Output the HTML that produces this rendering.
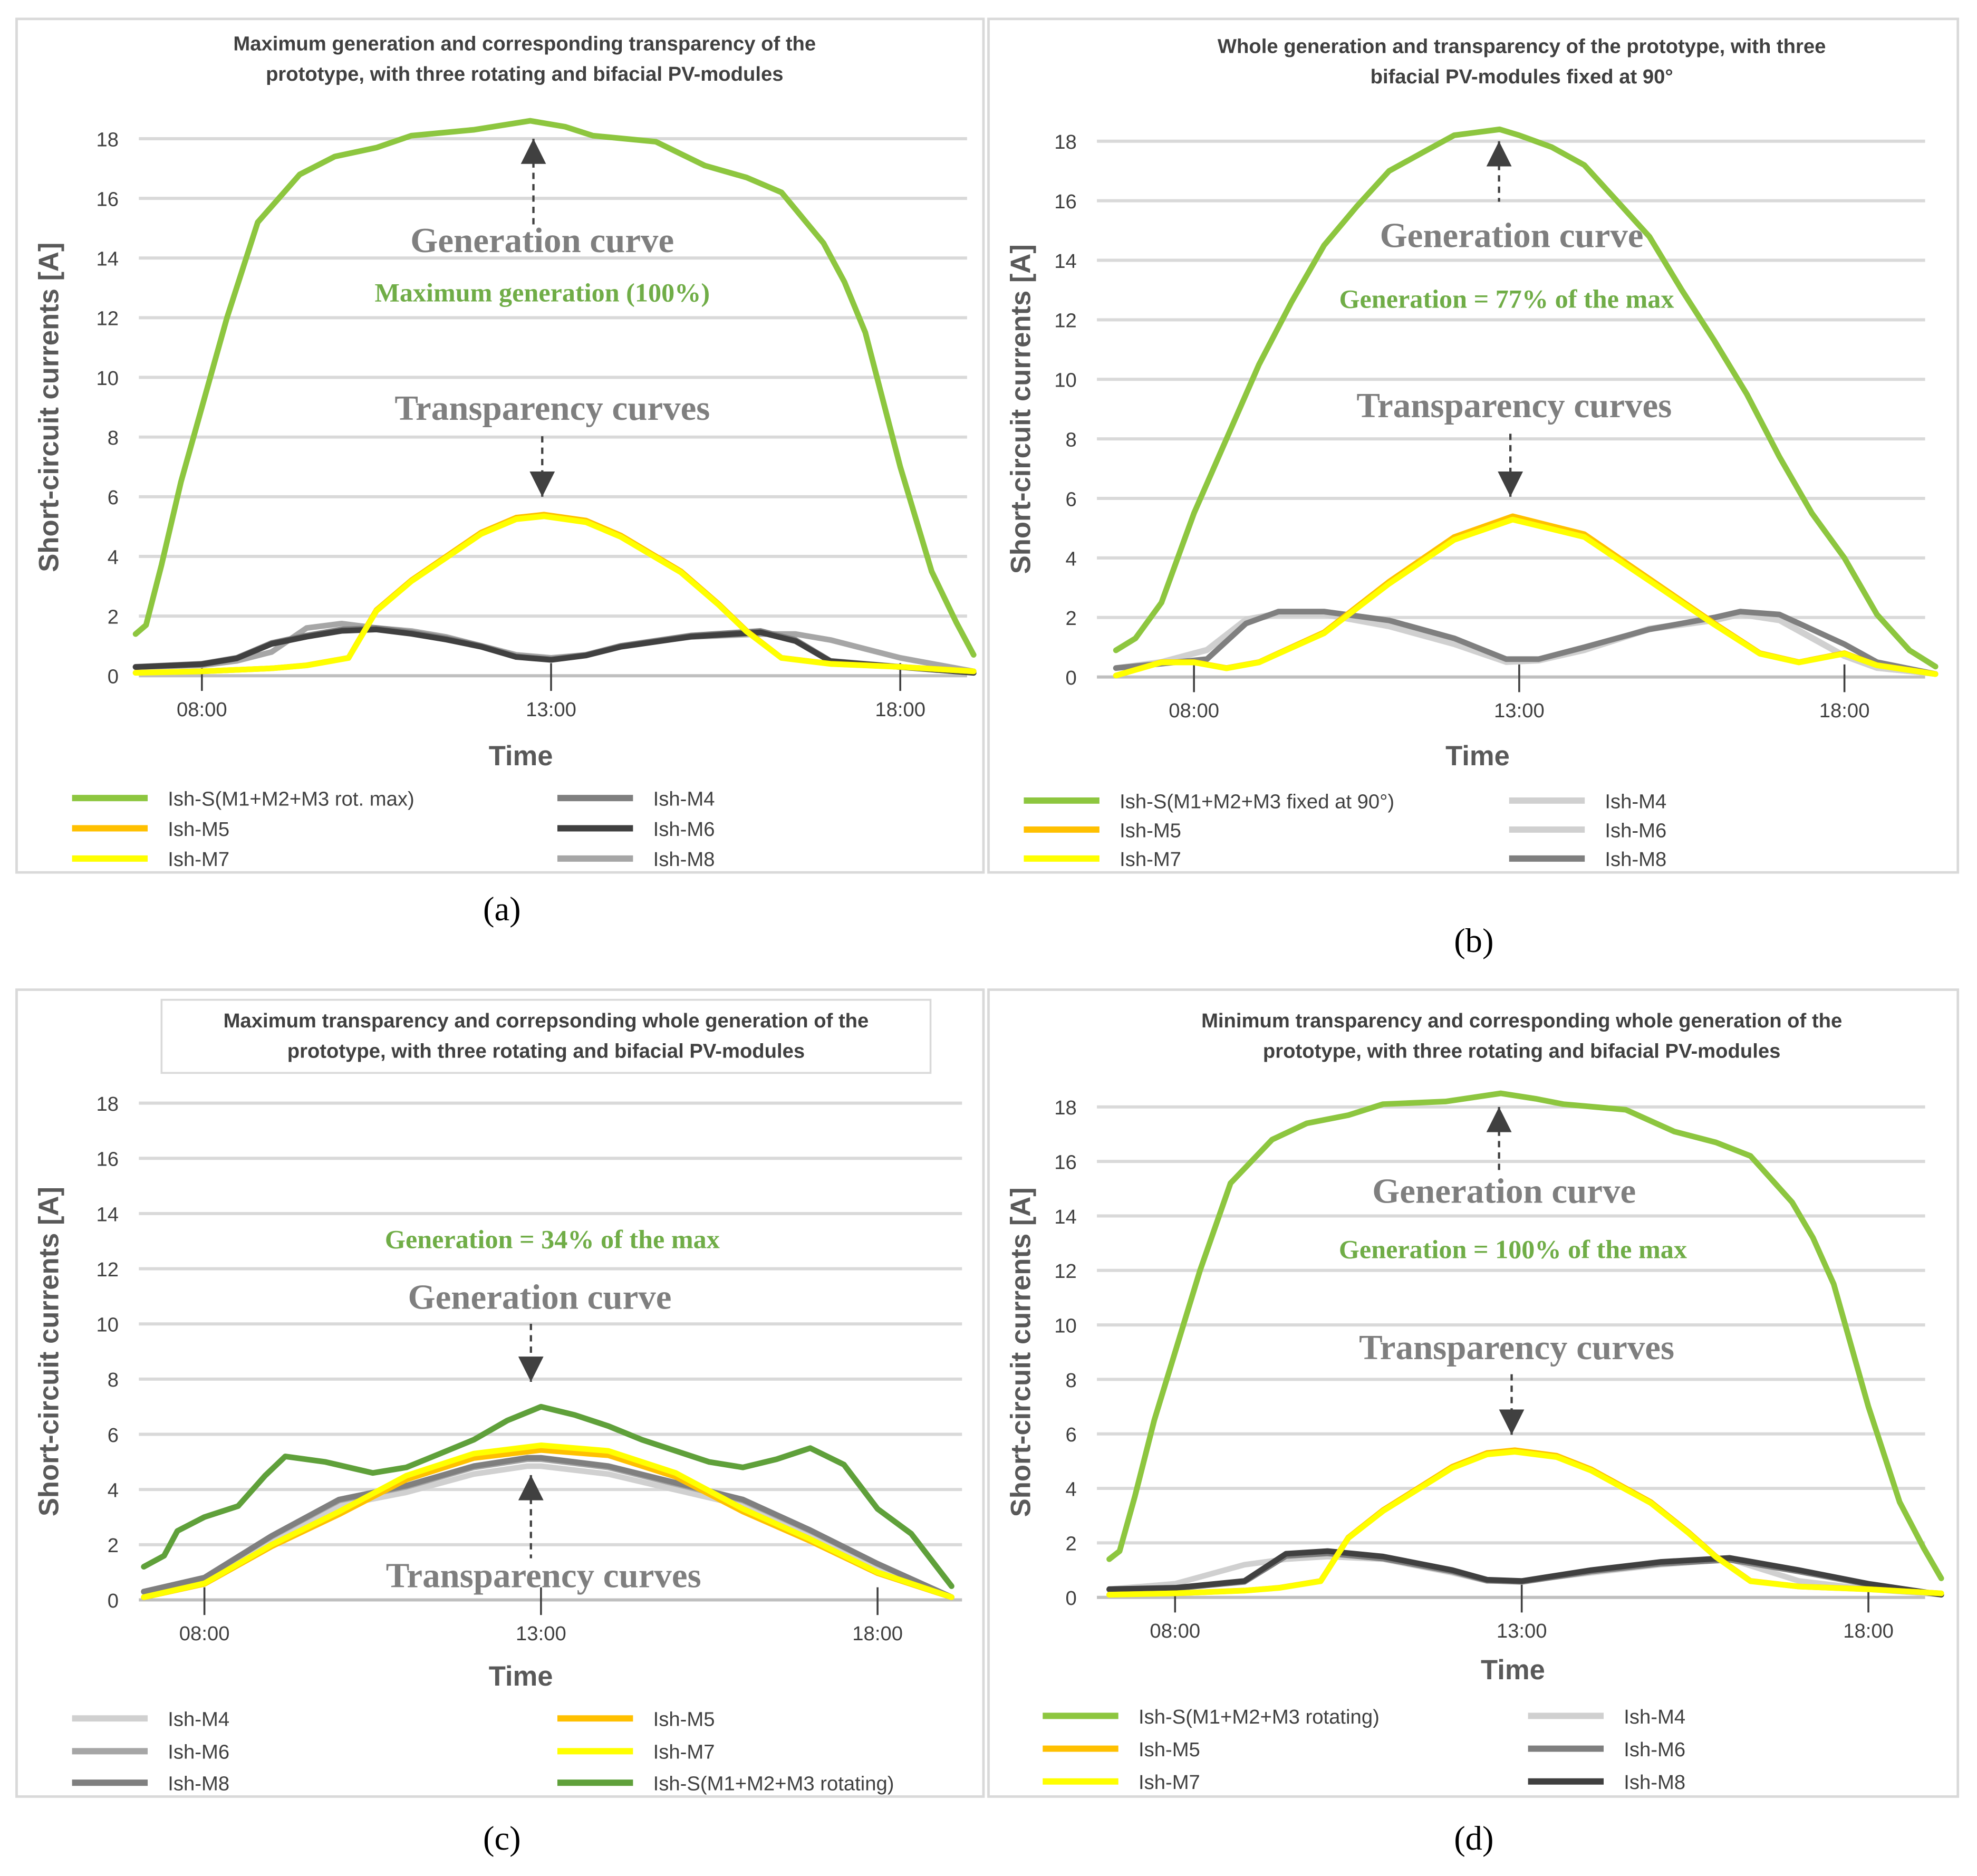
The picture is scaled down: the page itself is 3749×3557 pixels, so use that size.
<!DOCTYPE html>
<html><head><meta charset="utf-8">
<style>
html,body{margin:0;padding:0;background:#fff;}
svg{display:block;}
</style></head>
<body>
<svg id="chart" width="3749" height="3557" viewBox="0 0 1568 1488" xmlns="http://www.w3.org/2000/svg" style="font-family:'Liberation Sans',sans-serif"></svg>
<script>
// ---------- DATA ----------
const ticksY = [0,2,4,6,8,10,12,14,16,18];
const ticksX = ["08:00","13:00","18:00"];
const ticksXval = [8,13,18];

// Panel a
const aGenT = [7.05,7.2,7.42,7.7,8,8.36,8.8,9.4,9.9,10.5,11,11.9,12.7,13.2,13.6,14.5,15.2,15.8,16.3,16.9,17.2,17.5,18,18.45,18.8,19.05];
const aGenV = [1.4,1.7,3.7,6.5,9,12,15.2,16.8,17.4,17.7,18.1,18.3,18.6,18.4,18.1,17.9,17.1,16.7,16.2,14.5,13.2,11.5,7,3.5,1.8,0.7];
const aYelT = [7.05,8,9,9.5,10.1,10.5,11,11.5,12,12.5,12.9,13.5,14,14.86,15.4,15.8,16.3,17,18,19.05];
const aYelV = [0.1,0.15,0.25,0.35,0.6,2.2,3.2,4.0,4.8,5.3,5.4,5.2,4.7,3.5,2.4,1.5,0.6,0.4,0.3,0.15];
const aGryT = [7.05,8,8.5,9,9.5,10,10.5,11,11.5,12,12.5,13,13.5,14,15,16,16.5,17,18,19.05];
const aGryV = [0.3,0.4,0.6,1.1,1.35,1.55,1.6,1.45,1.25,1.0,0.65,0.55,0.7,1.0,1.35,1.5,1.2,0.5,0.3,0.1];
const aM8V  = [0.3,0.35,0.5,0.8,1.6,1.75,1.6,1.5,1.3,1.0,0.7,0.6,0.7,1.0,1.3,1.4,1.4,1.2,0.6,0.15];

// Panel b
const bGenT = [6.8,7.1,7.5,8,8.5,9,9.5,10,10.5,11,11.5,12,12.7,13,13.5,14,14.5,15,15.5,16,16.5,17,17.5,18,18.5,19,19.4];
const bGenV = [0.9,1.3,2.5,5.5,8,10.5,12.6,14.5,15.8,17,17.6,18.2,18.4,18.2,17.8,17.2,16,14.8,13,11.3,9.5,7.4,5.5,4,2.1,0.9,0.35];
const bYelT = [6.8,7.5,8,8.5,9,10,11,12,12.9,14,15,16,16.7,17.3,18,18.5,19.4];
const bYelV = [0.05,0.5,0.5,0.3,0.5,1.5,3.2,4.7,5.4,4.8,3.3,1.8,0.8,0.5,0.8,0.4,0.1];
const bGryT = [6.8,7.5,8.2,8.8,9.3,10,11,12,12.8,13.3,14,15,16,16.4,17,18,18.5,19.4];
const bGryV = [0.3,0.45,0.6,1.8,2.2,2.2,1.9,1.3,0.6,0.6,1.0,1.6,2.0,2.2,2.1,1.1,0.5,0.1];
const bLgtV = [0.3,0.5,0.9,1.9,2.1,2.1,1.7,1.1,0.5,0.55,0.9,1.6,1.9,2.1,1.9,0.7,0.3,0.1];

// Panel c
const cGenT = [7.1,7.4,7.6,8,8.5,8.9,9.2,9.8,10.5,11,11.5,12,12.5,13,13.5,14,14.5,15.5,16,16.5,17,17.5,18,18.5,19.1];
const cGenV = [1.2,1.6,2.5,3.0,3.4,4.5,5.2,5.0,4.6,4.8,5.3,5.8,6.5,7.0,6.7,6.3,5.8,5.0,4.8,5.1,5.5,4.9,3.3,2.4,0.5];
const cYelT = [7.1,8,9,10,11,12,13,14,15,16,17,18,19.1];
const cYelV = [0.1,0.6,2.0,3.2,4.5,5.3,5.6,5.4,4.6,3.3,2.2,1.0,0.1];
const cGryT = [7.1,8,9,10,11,12,12.8,13,14,15,16,17,18,19.1];
const cGryV = [0.3,0.8,2.3,3.6,4.1,4.8,5.1,5.1,4.8,4.2,3.6,2.5,1.3,0.1];

// Panel d
const dGenT = aGenT;
const dGenV = [1.4,1.7,3.7,6.5,9,12,15.2,16.8,17.4,17.7,18.1,18.2,18.5,18.3,18.1,17.9,17.1,16.7,16.2,14.5,13.2,11.5,7,3.5,1.8,0.7];
const dYelT = aYelT;
const dYelV = aYelV;
const dGryT = [7.05,8,9,9.6,10.2,11,12,12.5,13,14,15,16,17,18,19.05];
const dGryV = [0.3,0.35,0.6,1.6,1.7,1.5,1.0,0.65,0.6,1.0,1.3,1.45,1.0,0.5,0.1];
const dLgtV = [0.3,0.5,1.2,1.4,1.5,1.4,0.9,0.6,0.6,0.9,1.2,1.4,0.6,0.3,0.1];

// ---------- DRAW ----------
const NS="http://www.w3.org/2000/svg";
const svg=document.getElementById('chart');
const SERIF="font-family:'Liberation Serif',serif";
function mk(tag,attrs,parent,txt){const e=document.createElementNS(NS,tag);for(const k in attrs)e.setAttribute(k,attrs[k]);if(txt!==undefined)e.textContent=txt;(parent||svg).appendChild(e);return e;}

function panel(cfg){
  const g=mk('g',{});
  
  
  const box=mk('rect',{x:cfg.box[0],y:cfg.box[1],width:cfg.box[2],height:cfg.box[3],fill:'#fff',stroke:'#d9d9d9','stroke-width':2},g);
  
  
  const sy=v=>cfg.y0-(cfg.y0-cfg.y18)*v/18;
  const sx=t=>cfg.x8+(t-8)*(cfg.x13-cfg.x8)/5;
  ticksY.forEach(v=>{
    const l=mk('line',{x1:cfg.gx0,x2:cfg.gx1,y1:sy(v),y2:sy(v),stroke:v===0?'#bfbfbf':'#d9d9d9','stroke-width':2.5},g);
    
    
    const t=mk('text',{x:cfg.gx0-16,y:sy(v)+6,'text-anchor':'end','font-size':16,fill:'#404040'},g,String(v));
    
    
  });
  ticksX.forEach((lab,i)=>{
    const x=sx(ticksXval[i]);
    const l=mk('line',{x1:x,x2:x,y1:cfg.y0-10,y2:cfg.y0+12,stroke:'#404040','stroke-width':1.5},g);
    
    
    const t=mk('text',{x:x,y:cfg.y0+32,'text-anchor':'middle','font-size':16,fill:'#404040'},g,lab);
    
    
  });
  const yt=mk('text',{x:0,y:0,transform:`translate(${cfg.ytx},${(cfg.y0+cfg.y18)/2}) rotate(-90)`,'text-anchor':'middle','font-size':22,'font-weight':'bold',fill:'#595959'},g,'Short-circuit currents [A]');
  
  
  const xt=mk('text',{x:cfg.xtx,y:cfg.xty,'text-anchor':'middle','font-size':22,'font-weight':'bold',fill:'#595959'},g,'Time');
  
  
  if(cfg.titleBox){const tb=mk('rect',{x:cfg.titleBox[0],y:cfg.titleBox[1],width:cfg.titleBox[2],height:cfg.titleBox[3],fill:'none',stroke:'#d9d9d9','stroke-width':1.5},g);
    }
  cfg.title.forEach((s,i)=>{
    const t=mk('text',{x:cfg.tx,y:cfg.ty+i*24,'text-anchor':'middle','font-size':16,'font-weight':'bold',fill:'#404040'},g,s);
    
    
  });
  cfg.series.forEach(s=>{
    const pts=s.t.map((t,i)=>sx(t).toFixed(1)+','+sy(s.v[i]).toFixed(1)).join(' ');
    const p=mk('polyline',{points:pts,fill:'none',stroke:s.c,'stroke-width':4.5,'stroke-linejoin':'round','stroke-linecap':'round'},g);
    
    
  });
  cfg.notes.forEach(n=>{
    const t=mk('text',{x:n.x,y:n.y,'text-anchor':'middle',style:SERIF,'font-size':n.s,'font-weight':'bold',fill:n.c},g,n.txt);
    
    
  });
  cfg.arrows.forEach(a=>{
    const l=mk('line',{x1:a.x,x2:a.x,y1:a.y1,y2:a.y2,stroke:'#404040','stroke-width':1.8,'stroke-dasharray':'5,4'},g);
    
    
    const d=a.up?-1:1;const tip=a.up?a.y1:a.y2;
    const h=mk('polygon',{points:`${a.x},${tip} ${a.x-10},${tip-20*d} ${a.x+10},${tip-20*d}`,fill:'#404040'},g);
    
    
  });
  cfg.legend.forEach(e=>{
    const l=mk('line',{x1:e.x,x2:e.x+60,y1:e.y,y2:e.y,stroke:e.c,'stroke-width':5},g);
    
    
    const t=mk('text',{x:e.x+76,y:e.y+6,'font-size':16,fill:'#404040'},g,e.txt);
    
    
  });
  const lb=mk('text',{x:cfg.lab[0],y:cfg.lab[1],'text-anchor':'middle',style:SERIF,'font-size':27,fill:'#000'},svg,cfg.lab[2]);
  
  
}

const LG='#8dc63f',YE='#ffff00',OR='#ffc000',G1='#7f7f7f',G2='#404040',G3='#a6a6a6',G4='#d0d0d0',DG='#5fa03a';
const grey='#7f7f7f';
const BIG=28, SM=21;

panel({name:'panel-a',box:[13,15,767,677],y0:536,y18:110,gx0:110,gx1:767,x8:160,x13:437,ytx:46,xtx:413,xty:607,
 tx:416,ty:40,title:['Maximum generation and corresponding transparency of the','prototype, with three rotating and bifacial PV-modules'],
 series:[{t:aGryT,v:aM8V,c:G3,n:'series-ish-m8'},{t:aGryT,v:aGryV,c:G1,n:'series-ish-m4'},{t:aGryT,v:aGryV.map(v=>v*0.97),c:G2,n:'series-ish-m6'},
  {t:aYelT,v:aYelV,c:OR,n:'series-ish-m5'},{t:aYelT,v:aYelV.map(v=>v*0.99),c:YE,n:'series-ish-m7'},{t:aGenT,v:aGenV,c:LG,n:'series-ish-s'}],
 notes:[{x:430,y:200,s:BIG,c:grey,txt:'Generation curve',name:'generation-annotation'},{x:430,y:239,s:SM,c:'#70ad47',txt:'Maximum generation (100%)',name:'generation-percent'},
  {x:438,y:333,s:BIG,c:grey,txt:'Transparency curves',name:'transparency-annotation'}],
 arrows:[{x:423,y1:110,y2:178,up:true},{x:430,y1:346,y2:394,up:false}],
 legend:[{x:57,y:633,c:LG,txt:'Ish-S(M1+M2+M3 rot. max)'},{x:442,y:633,c:G1,txt:'Ish-M4'},{x:57,y:657,c:OR,txt:'Ish-M5'},{x:442,y:657,c:G2,txt:'Ish-M6'},{x:57,y:681,c:YE,txt:'Ish-M7'},{x:442,y:681,c:G3,txt:'Ish-M8'}],
 lab:[398,730,'(a)']});

panel({name:'panel-b',box:[784,15,769,677],y0:537,y18:112,gx0:870,gx1:1527,x8:947,x13:1205,ytx:817,xtx:1172,xty:607,
 tx:1207,ty:42,title:['Whole generation and transparency of the prototype, with three','bifacial PV-modules fixed at 90°'],
 series:[{t:bGryT,v:bLgtV,c:G4,n:'series-ish-m4'},{t:bGryT,v:bLgtV.map(v=>v*1.02),c:G4,n:'series-ish-m6'},{t:bGryT,v:bGryV,c:G1,n:'series-ish-m8'},
  {t:bYelT,v:bYelV,c:OR,n:'series-ish-m5'},{t:bYelT,v:bYelV.map(v=>v*0.98),c:YE,n:'series-ish-m7'},{t:bGenT,v:bGenV,c:LG,n:'series-ish-s'}],
 notes:[{x:1199,y:196,s:BIG,c:grey,txt:'Generation curve',name:'generation-annotation'},{x:1195,y:244,s:SM,c:'#70ad47',txt:'Generation = 77% of the max',name:'generation-percent'},
  {x:1201,y:331,s:BIG,c:grey,txt:'Transparency curves',name:'transparency-annotation'}],
 arrows:[{x:1189,y1:112,y2:160,up:true},{x:1198,y1:344,y2:394,up:false}],
 legend:[{x:812,y:635,c:LG,txt:'Ish-S(M1+M2+M3 fixed at 90°)'},{x:1197,y:635,c:G4,txt:'Ish-M4'},{x:812,y:658,c:OR,txt:'Ish-M5'},{x:1197,y:658,c:G4,txt:'Ish-M6'},{x:812,y:681,c:YE,txt:'Ish-M7'},{x:1197,y:681,c:G1,txt:'Ish-M8'}],
 lab:[1169,755,'(b)']});

panel({name:'panel-c',box:[13,785,767,640],y0:1269,y18:875,gx0:110,gx1:763,x8:162,x13:429,ytx:46,xtx:413,xty:1337,
 titleBox:[128,793,610,58],tx:433,ty:815,title:['Maximum transparency and correpsonding whole generation of the','prototype, with three rotating and bifacial PV-modules'],
 series:[{t:cGryT,v:cGryV.map(v=>v*0.95),c:G4,n:'series-ish-m4'},{t:cGryT,v:cGryV,c:G3,n:'series-ish-m6'},{t:cGryT,v:cGryV.map(v=>v*1.01),c:G1,n:'series-ish-m8'},
  {t:cYelT,v:cYelV.map(v=>v*0.97),c:OR,n:'series-ish-m5'},{t:cYelT,v:cYelV,c:YE,n:'series-ish-m7'},{t:cGenT,v:cGenV,c:DG,n:'series-ish-s'}],
 notes:[{x:438,y:990,s:SM,c:'#70ad47',txt:'Generation = 34% of the max',name:'generation-percent'},{x:428,y:1038,s:BIG,c:grey,txt:'Generation curve',name:'generation-annotation'},
  {x:431,y:1259,s:BIG,c:grey,txt:'Transparency curves',name:'transparency-annotation'}],
 arrows:[{x:421,y1:1050,y2:1096,up:false},{x:421,y1:1170,y2:1236,up:true}],
 legend:[{x:57,y:1363,c:G4,txt:'Ish-M4'},{x:442,y:1363,c:OR,txt:'Ish-M5'},{x:57,y:1389,c:G3,txt:'Ish-M6'},{x:442,y:1389,c:YE,txt:'Ish-M7'},{x:57,y:1414,c:G1,txt:'Ish-M8'},{x:442,y:1414,c:DG,txt:'Ish-S(M1+M2+M3 rotating)'}],
 lab:[398,1467,'(c)']});

panel({name:'panel-d',box:[784,785,769,640],y0:1267,y18:878,gx0:870,gx1:1527,x8:932,x13:1207,ytx:817,xtx:1200,xty:1332,
 tx:1207,ty:815,title:['Minimum transparency and corresponding whole generation of the','prototype, with three rotating and bifacial PV-modules'],
 series:[{t:dGryT,v:dLgtV,c:G4,n:'series-ish-m4'},{t:dGryT,v:dGryV.map(v=>v*0.95),c:G1,n:'series-ish-m6'},{t:dGryT,v:dGryV,c:G2,n:'series-ish-m8'},
  {t:dYelT,v:dYelV,c:OR,n:'series-ish-m5'},{t:dYelT,v:dYelV.map(v=>v*0.99),c:YE,n:'series-ish-m7'},{t:dGenT,v:dGenV,c:LG,n:'series-ish-s'}],
 notes:[{x:1193,y:954,s:BIG,c:grey,txt:'Generation curve',name:'generation-annotation'},{x:1200,y:998,s:SM,c:'#70ad47',txt:'Generation = 100% of the max',name:'generation-percent'},
  {x:1203,y:1078,s:BIG,c:grey,txt:'Transparency curves',name:'transparency-annotation'}],
 arrows:[{x:1189,y1:878,y2:930,up:true},{x:1199,y1:1090,y2:1138,up:false}],
 legend:[{x:827,y:1361,c:LG,txt:'Ish-S(M1+M2+M3 rotating)'},{x:1212,y:1361,c:G4,txt:'Ish-M4'},{x:827,y:1387,c:OR,txt:'Ish-M5'},{x:1212,y:1387,c:G1,txt:'Ish-M6'},{x:827,y:1413,c:YE,txt:'Ish-M7'},{x:1212,y:1413,c:G2,txt:'Ish-M8'}],
 lab:[1169,1467,'(d)']});
</script>
</body></html>
